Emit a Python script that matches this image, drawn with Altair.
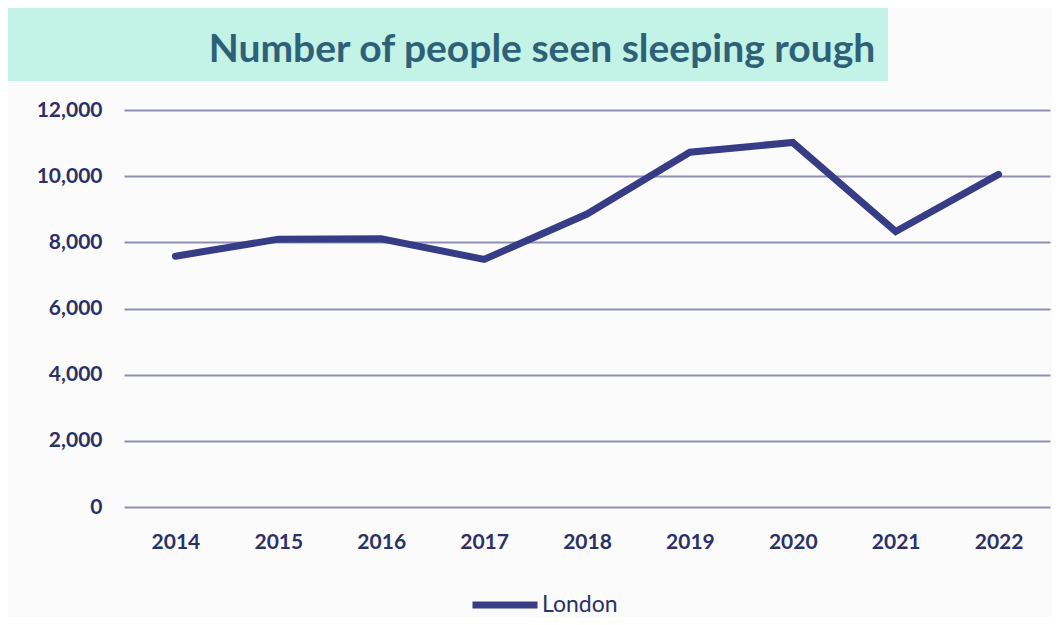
import altair as alt
import pandas as pd

years = ["2014", "2015", "2016", "2017", "2018", "2019", "2020", "2021", "2022"]
london = [7581, 8096, 8108, 7484, 8855, 10726, 11018, 8329, 10053]
series_name = "London"
title_text = "Number of people seen sleeping rough"

df = pd.DataFrame({"year": years, "value": london, "series": [series_name] * len(years)})

W, H = 926, 397
NAVY = "#363c85"
LABEL = "#2b3067"
GRID = "#8d8fb5"
FONT = "Lato"

line = alt.Chart(df).mark_line(strokeWidth=7, strokeCap="round", strokeJoin="miter").encode(
    x=alt.X("year:N", sort=years, title=None,
            scale=alt.Scale(type="point", padding=0.5),
            axis=alt.Axis(labelAngle=0, domain=False, ticks=False, grid=False,
                          labelPadding=24, labelFontSize=21, labelFont=FONT,
                          labelFontWeight="bold", labelColor=LABEL)),
    y=alt.Y("value:Q", title=None,
            scale=alt.Scale(domain=[0, 12000], nice=False),
            axis=alt.Axis(values=[0, 2000, 4000, 6000, 8000, 10000, 12000],
                          labelExpr="format(datum.value, ',.0f')",
                          domain=False, ticks=False, grid=True, gridColor=GRID, gridWidth=2,
                          labelPadding=22, labelFontSize=21, labelFont=FONT,
                          labelFontWeight="bold", labelColor=LABEL)),
    color=alt.Color("series:N", scale=alt.Scale(range=[NAVY]),
                    legend=alt.Legend(title=None, orient="none", legendX=345, legendY=459,
                                      symbolType="stroke", symbolSize=4225, symbolStrokeWidth=7,
                                      labelFontSize=23, labelFont=FONT, labelColor=LABEL,
                                      labelOffset=1)),
)

title_box = alt.Chart(pd.DataFrame({"t": [title_text]})).mark_rect(color="#c3f2e6").encode(
    x=alt.value(-124), x2=alt.value(764), y=alt.value(-103), y2=alt.value(-29)
)
title = alt.Chart(pd.DataFrame({"t": [title_text]})).mark_text(
    font=FONT, fontSize=39, fontWeight="bold", color="#2e6178", align="center", baseline="alphabetic"
).encode(text="t:N", x=alt.value(418), y=alt.value(-48))

chart = alt.layer(title_box, title, line).properties(
    width=W, height=H,
    autosize=alt.AutoSizeParams(type="none"),
    padding={"left": 116, "top": 102, "right": 2, "bottom": 110},
    background="#fbfbfc",
).configure_view(stroke=None)

chart.save("out.html", embed_options={"renderer": "svg", "actions": False})
